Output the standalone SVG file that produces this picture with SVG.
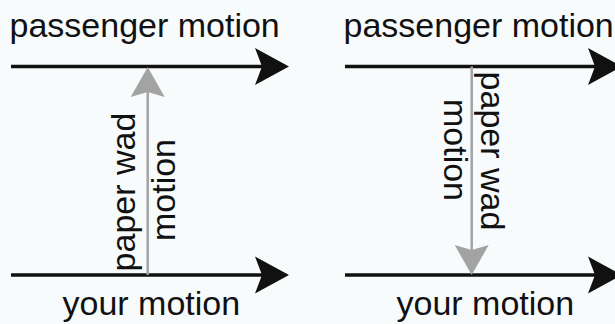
<svg xmlns="http://www.w3.org/2000/svg" width="615" height="324" viewBox="0 0 615 324">
  <style>
    .lbl { font-family: "Liberation Sans", Arial, sans-serif; font-size: 34px; fill: #111; }
    .mid { text-anchor: middle; }
    .motion { stroke: #111; stroke-width: 3.5; fill: none; }
    .wad { stroke: #a3a3a3; stroke-width: 2.5; fill: none; }
  </style>
  <defs>
    <marker id="blackHead" markerUnits="userSpaceOnUse" viewBox="-1 -20 38 40" markerWidth="38" markerHeight="40" refX="7" refY="0" orient="auto">
      <path d="M0,-18.5 L34,0 L0,18.5 L7,0 Z" fill="#111"/>
    </marker>
    <marker id="grayHead" markerUnits="userSpaceOnUse" viewBox="-1 -18 34 36" markerWidth="34" markerHeight="36" refX="5" refY="0" orient="auto">
      <path d="M0,-17 L30,0 L0,17 L5,0 Z" fill="#a3a3a3"/>
    </marker>
  </defs>
  <rect width="615" height="324" fill="#f8fbfc"/>

  <g id="connectors">
    <line class="motion" x1="11" y1="66.5" x2="262" y2="66.5" marker-end="url(#blackHead)"/>
    <line class="motion" x1="11" y1="275" x2="262" y2="275" marker-end="url(#blackHead)"/>
    <line class="wad" x1="147.7" y1="275" x2="147.7" y2="92" marker-end="url(#grayHead)"/>
    <line class="motion" x1="345" y1="66.5" x2="595" y2="66.5" marker-end="url(#blackHead)"/>
    <line class="motion" x1="345" y1="275" x2="595" y2="275" marker-end="url(#blackHead)"/>
    <line class="wad" x1="471.7" y1="66.5" x2="471.7" y2="250" marker-end="url(#grayHead)"/>
  </g>

  <g id="left-panel">
    <text class="lbl" x="9.5" y="36.5">passenger motion</text>
    <text class="lbl" x="62.5" y="315">your motion</text>
    <text class="lbl mid" transform="translate(135,192) rotate(-90)">paper wad</text>
    <text class="lbl mid" transform="translate(175,190) rotate(-90)">motion</text>
  </g>

  <g id="right-panel">
    <text class="lbl" x="343.5" y="36.5">passenger motion</text>
    <text class="lbl" x="396.5" y="315">your motion</text>
    <text class="lbl mid" transform="translate(481,151) rotate(90)">paper wad</text>
    <text class="lbl mid" transform="translate(444,150) rotate(90)">motion</text>
  </g>
</svg>
